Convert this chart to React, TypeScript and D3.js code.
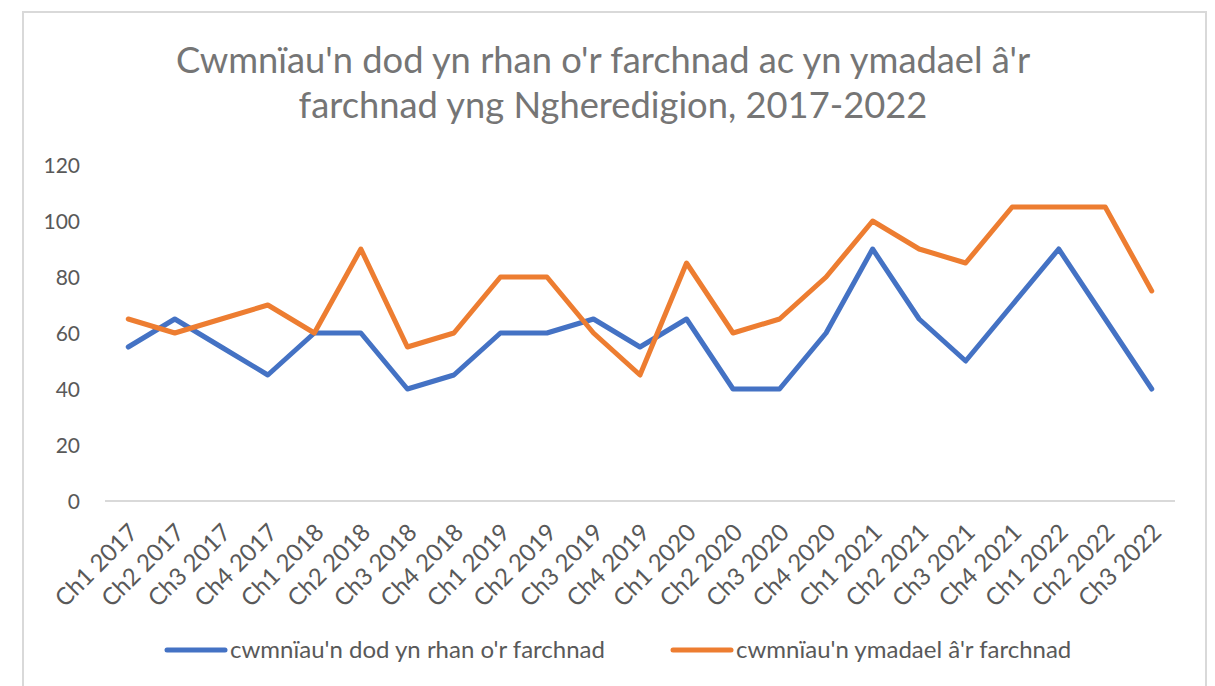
import React from "react";
import * as d3 from "d3";

const categories = [
  "Ch1 2017", "Ch2 2017", "Ch3 2017", "Ch4 2017",
  "Ch1 2018", "Ch2 2018", "Ch3 2018", "Ch4 2018",
  "Ch1 2019", "Ch2 2019", "Ch3 2019", "Ch4 2019",
  "Ch1 2020", "Ch2 2020", "Ch3 2020", "Ch4 2020",
  "Ch1 2021", "Ch2 2021", "Ch3 2021", "Ch4 2021",
  "Ch1 2022", "Ch2 2022", "Ch3 2022",
];
const joining = [55, 65, 55, 45, 60, 60, 40, 45, 60, 60, 65, 55, 65, 40, 40, 60, 90, 65, 50, 70, 90, 65, 40];
const leaving = [65, 60, 65, 70, 60, 90, 55, 60, 80, 80, 60, 45, 85, 60, 65, 80, 100, 90, 85, 105, 105, 105, 75];
const yTicks = [0, 20, 40, 60, 80, 100, 120];
const seriesNames = ["cwmnïau'n dod yn rhan o'r farchnad", "cwmnïau'n ymadael â'r farchnad"];
const titleLines = ["Cwmnïau'n dod yn rhan o'r farchnad ac yn ymadael â'r", "farchnad yng Ngheredigion, 2017-2022"];

const W = 1215;
const H = 686;
const FONT = "Lato, 'Open Sans', sans-serif";
const colors = ["#4472C4", "#ED7D31"];

export default function App() {
  const x = d3.scaleBand<string>().domain(categories).range([105, 1175]);
  const y = d3.scaleLinear().domain([0, 120]).range([501, 165]);
  const cx = (c: string) => (x(c) as number) + x.bandwidth() / 2;
  const line = d3
    .line<number>()
    .x((_, i) => cx(categories[i]))
    .y((d) => y(d));
  const series = [joining, leaving];
  const legendX = [167, 673];
  const titleX = [603, 613];

  return (
    <svg
      width={W}
      height={H}
      style={{ position: "fixed", left: 0, top: 0, background: "#fff" }}
      fontFamily={FONT}
    >
      <rect x={0} y={0} width={W} height={H} fill="#fff" />
      <rect x={23} y={12} width={1183} height={H + 20} fill="#fff" stroke="#d9d9d9" strokeWidth={2} />
      {titleLines.map((t, i) => (
        <text key={i} x={titleX[i]} y={73 + i * 45} textAnchor="middle" fontSize={36.3} fill="#757575">
          {t}
        </text>
      ))}
      {yTicks.map((t) => (
        <text key={t} x={80} y={y(t) + 7.5} textAnchor="end" fontSize={21} fill="#595959">
          {t}
        </text>
      ))}
      <line x1={105} x2={1175} y1={y(0)} y2={y(0)} stroke="#d9d9d9" strokeWidth={2} />
      {categories.map((c) => (
        <text
          key={c}
          transform={`translate(${cx(c) + 11},${534}) rotate(-45)`}
          textAnchor="end"
          fontSize={24}
          fill="#595959"
        >
          {c}
        </text>
      ))}
      {series.map((s, i) => (
        <path
          key={i}
          d={line(s) || ""}
          fill="none"
          stroke={colors[i]}
          strokeWidth={5}
          strokeLinejoin="round"
          strokeLinecap="round"
        />
      ))}
      {seriesNames.map((n, i) => {
        const lx = legendX[i];
        return (
          <g key={n}>
            <line x1={lx} x2={lx + 58} y1={650} y2={650} stroke={colors[i]} strokeWidth={5} strokeLinecap="round" />
            <text x={lx + 63} y={658} fontSize={24} fill="#595959">
              {n}
            </text>
          </g>
        );
      })}
    </svg>
  );
}
